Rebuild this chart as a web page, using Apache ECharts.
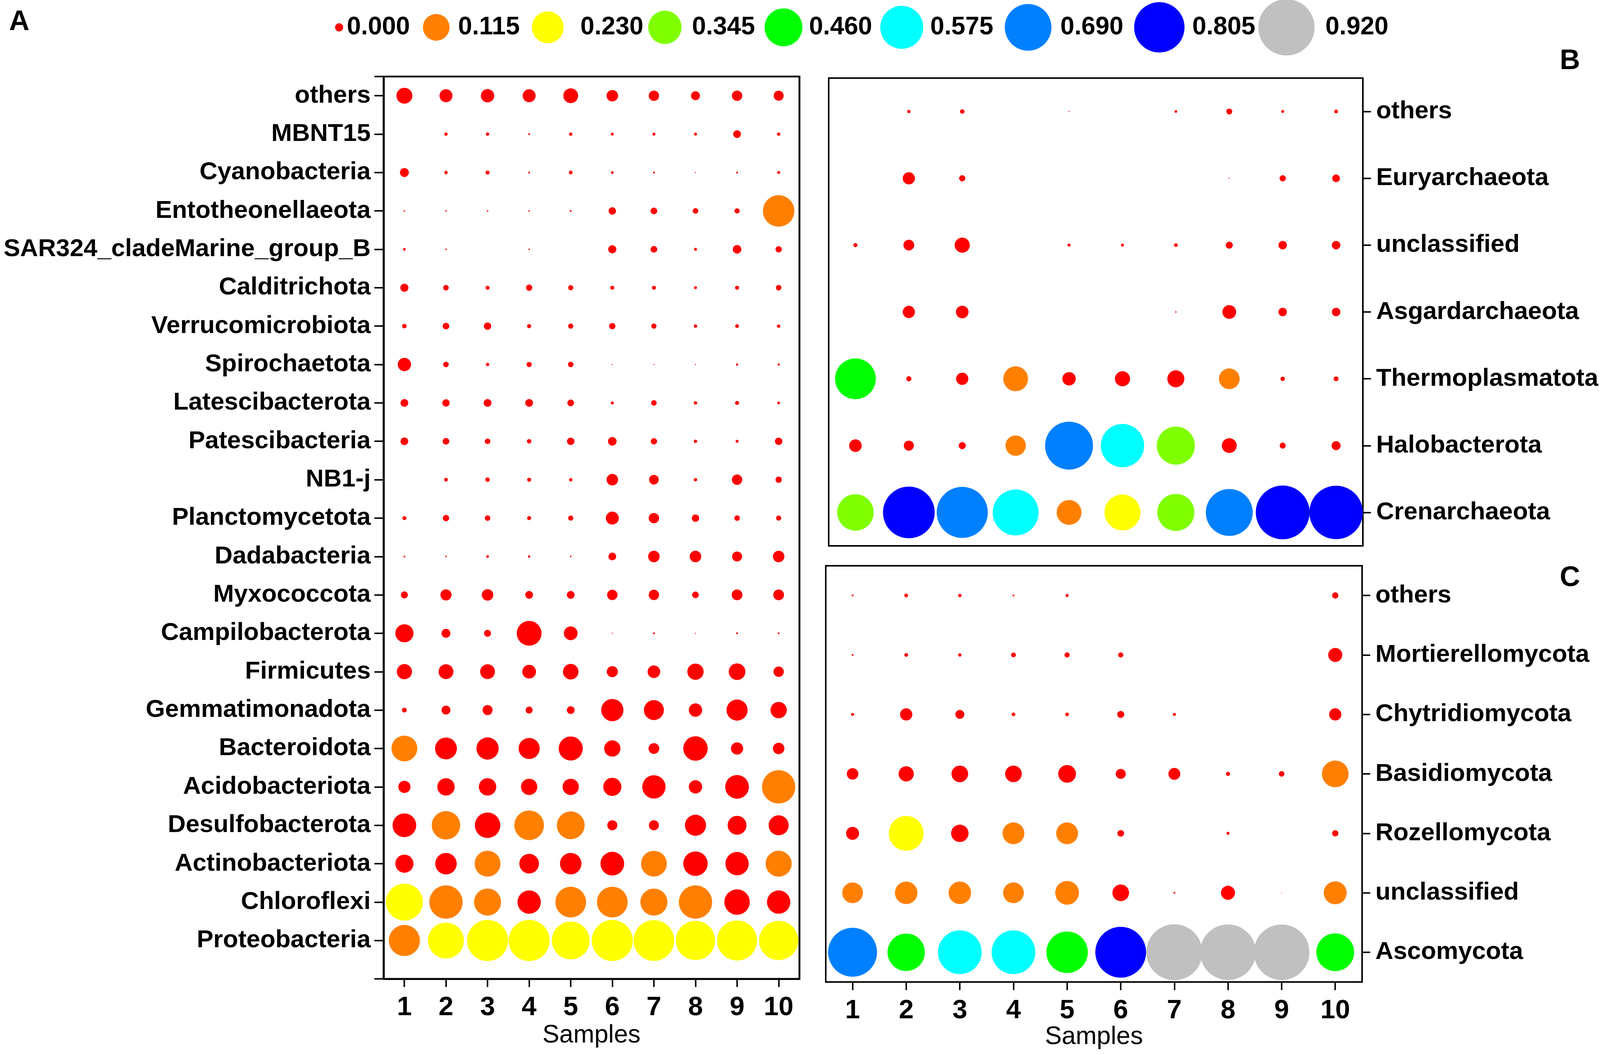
<!DOCTYPE html>
<html>
<head>
<meta charset="utf-8">
<script src="https://cdn.jsdelivr.net/npm/echarts@6/dist/echarts.min.js"></script>
<style>
html,body{margin:0;padding:0;background:#fff;overflow:hidden;}
#chart{width:100vw;height:100vh;}
</style>
</head>
<body>
<div id="chart"></div>
<script>
// ---------------- DATA ----------------
const SAMPLES = ['1','2','3','4','5','6','7','8','9','10'];

// Panel A (top to bottom)
const A_TAXA = ['others','MBNT15','Cyanobacteria','Entotheonellaeota','SAR324_cladeMarine_group_B',
  'Calditrichota','Verrucomicrobiota','Spirochaetota','Latescibacterota','Patescibacteria','NB1-j',
  'Planctomycetota','Dadabacteria','Myxococcota','Campilobacterota','Firmicutes','Gemmatimonadota',
  'Bacteroidota','Acidobacteriota','Desulfobacterota','Actinobacteriota','Chloroflexi','Proteobacteria'];
const A_VALUES = [
  [0.0447,0.0296,0.0313,0.0296,0.0386,0.0232,0.0189,0.0139,0.0189,0.0176],
  [0,0.002,0.002,0.0006,0.002,0.0015,0.0015,0.0015,0.0107,0.002],
  [0.0139,0.002,0.0029,0.0006,0.0024,0.0012,0.0006,0.0002,0.0006,0.0015],
  [0.0004,0.0004,0.0004,0.0004,0.0006,0.0097,0.0078,0.0054,0.0047,0.186],
  [0.0012,0.0004,0,0.0004,0,0.0117,0.0078,0.0015,0.0128,0.007],
  [0.0117,0.0054,0.0029,0.007,0.0047,0.0029,0.0029,0.0015,0.0029,0.0054],
  [0.0035,0.0078,0.0097,0.0029,0.0047,0.007,0.0047,0.002,0.0024,0.002],
  [0.0313,0.0054,0.002,0.0047,0.0054,0.0002,0.0002,0.0002,0.0009,0.0009],
  [0.0107,0.0097,0.0107,0.0107,0.0078,0.0015,0.0054,0.002,0.0029,0.0012],
  [0.0107,0.0078,0.0054,0.0035,0.0097,0.0128,0.007,0.002,0.0015,0.0097],
  [0,0.0024,0.0035,0.0029,0.002,0.0232,0.0163,0.002,0.0189,0.007],
  [0.0029,0.007,0.0054,0.0029,0.0047,0.0296,0.0189,0.0097,0.0054,0.0047],
  [0.0006,0.0004,0.0012,0.0009,0.0004,0.0107,0.0232,0.0232,0.0176,0.0232],
  [0.0087,0.0217,0.0232,0.0107,0.0107,0.0189,0.0189,0.0078,0.0203,0.0203],
  [0.058,0.0139,0.0087,0.1084,0.0331,0.0002,0.0006,0.0002,0.0006,0.0006],
  [0.0406,0.0386,0.0386,0.0331,0.0426,0.0217,0.0279,0.0468,0.0489,0.0189],
  [0.0041,0.0139,0.0176,0.0087,0.0107,0.087,0.0704,0.0313,0.0785,0.0468],
  [0.118,0.0841,0.087,0.0785,0.102,0.0468,0.0203,0.1052,0.0263,0.0232],
  [0.0263,0.0534,0.0534,0.0468,0.0468,0.058,0.0959,0.0313,0.0989,0.208],
  [0.0989,0.150,0.114,0.164,0.142,0.0176,0.0176,0.0785,0.0628,0.0704],
  [0.058,0.0813,0.119,0.0679,0.0813,0.0989,0.118,0.1052,0.0959,0.121],
  [0.259,0.208,0.133,0.0959,0.177,0.177,0.133,0.208,0.114,0.0959],
  [0.181,0.243,0.332,0.332,0.275,0.332,0.326,0.300,0.313,0.300]
];

// Panel B (top to bottom)
const B_TAXA = ['others','Euryarchaeota','unclassified','Asgardarchaeota','Thermoplasmatota','Halobacterota','Crenarchaeota'];
const B_VALUES = [
  [0,0.0037,0.0066,0,0.0004,0,0.0023,0.012,0.0029,0.0046],
  [0,0.05,0.013,0,0,0,0,0.0004,0.013,0.02],
  [0.0056,0.039,0.077,0,0.0029,0.0029,0.0046,0.017,0.024,0.024],
  [0,0.05,0.053,0,0,0,0.0007,0.063,0.024,0.024],
  [0.489,0.009,0.05,0.204,0.06,0.077,0.097,0.146,0.0066,0.0078],
  [0.053,0.034,0.017,0.141,0.72,0.586,0.40,0.074,0.012,0.027],
  [0.35,0.81,0.795,0.665,0.204,0.34,0.37,0.695,0.87,0.86]
];

// Panel C (top to bottom)
const C_TAXA = ['others','Mortierellomycota','Chytridiomycota','Basidiomycota','Rozellomycota','unclassified','Ascomycota'];
const C_VALUES = [
  [0.0011,0.0043,0.0034,0.0011,0.0027,0,0,0,0,0.0123],
  [0.0011,0.0043,0.0034,0.0072,0.0083,0.0083,0,0,0,0.0614],
  [0.0027,0.0463,0.0245,0.0043,0.0043,0.0154,0.0027,0,0,0.0463],
  [0.0409,0.0715,0.0861,0.0861,0.098,0.031,0.0435,0.0051,0.0096,0.185],
  [0.0521,0.324,0.094,0.139,0.139,0.0138,0,0.0027,0,0.0123],
  [0.129,0.146,0.146,0.129,0.157,0.0861,0.0011,0.0614,0,0.15],
  [0.763,0.468,0.61,0.61,0.552,0.815,0.954,0.943,0.943,0.476]
];

// Legend breaks and colours
const LEGEND_BREAKS = [0.000,0.115,0.230,0.345,0.460,0.575,0.690,0.805,0.920];
const LEGEND_COLORS = ['#FF0000','#FF8000','#FFFF00','#80FF00','#00FF00','#00FFFF','#0080FF','#0000FF','#C0C0C0'];

// ---------------- STYLE / LAYOUT (reference px, 4317 x 2702) ----------------
const REF_W = 4317, REF_H = 2702;
const el = document.getElementById('chart');
const W = el.clientWidth || window.innerWidth, H = el.clientHeight || window.innerHeight;
const sx = W/REF_W, sy = H/REF_H, s = Math.min(sx, sy);
const X = v => v*sx, Y = v => v*sy, S = v => v*s;

const FONT = "'Liberation Sans', Arial, Helvetica, sans-serif";
// value -> bubble diameter (reference px) per panel
const STOPS_A = [[0.115,69],[0.23,95],[0.345,113],[0.46,122],[0.575,130],[0.69,137],[0.805,143],[0.92,150]];
const STOPS_B = [[0.115,50],[0.23,72],[0.345,98],[0.46,108],[0.575,116],[0.69,126],[0.805,139],[0.92,150]];
const STOPS_C = [[0.115,52],[0.23,85],[0.345,96],[0.46,100],[0.575,115],[0.69,125],[0.805,136],[0.92,148],[1.0,155]];
function sizeFor(v, stops){
  if (!(v > 0)) return 0;
  let d;
  if (v < stops[0][0]) d = Math.max(2.5, stops[0][1]*Math.sqrt(v/stops[0][0]));
  else {
    d = null;
    for (let i=1;i<stops.length;i++){
      if (v <= stops[i][0]){
        const a=stops[i-1], b=stops[i];
        d = a[1] + (v-a[0])/(b[0]-a[0])*(b[1]-a[1]);
        break;
      }
    }
    if (d === null){
      const a=stops[stops.length-2], b=stops[stops.length-1];
      d = b[1] + (v-b[0])/(b[0]-a[0])*(b[1]-a[1]);
    }
  }
  return S(d);
}
const LEGEND_CX = [915,1177,1478,1794,2114,2433,2774,3128,3471];
const LEGEND_TX = [936,1236,1566,1867,2183,2510,2861,3217,3576];
const LEGEND_D  = [22,72,86,90,102,116,126,136,152];
const LEGEND_Y = 70;

// ---------------- BUILD ----------------
const nA = A_TAXA.length;
const dataA = [], dataB = [], dataC = [];
A_VALUES.forEach((row,r)=>row.forEach((v,c)=>dataA.push([c, nA-1-r, v])));
B_VALUES.forEach((row,r)=>row.forEach((v,c)=>dataB.push([c, B_TAXA.length-1-r, v])));
C_VALUES.forEach((row,r)=>row.forEach((v,c)=>dataC.push([c, C_TAXA.length-1-r, v])));

const pieces = LEGEND_BREAKS.map((b,i)=>{
  const p = {gte:b, color:LEGEND_COLORS[i]};
  if (i < LEGEND_BREAKS.length-1) p.lt = LEGEND_BREAKS[i+1];
  return p;
});

const labelBold = {color:'#000', fontFamily:FONT, fontWeight:'bold', fontSize:S(67)};

function xAxisCfg(gridIndex, showLabels, lineW){
  return {
    type:'category', gridIndex, data:SAMPLES, boundaryGap:true,
    axisLine:{show:true, onZero:false, lineStyle:{color:'#000', width:S(lineW)}},
    axisTick:{show:showLabels, alignWithLabel:true, length:S(22), lineStyle:{color:'#000', width:S(4)}},
    axisLabel:{show:showLabels, margin:S(42), color:'#000', fontFamily:FONT, fontWeight:'bold', fontSize:S(72)},
    splitLine:{show:false},
    name: showLabels ? 'Samples' : '',
    nameLocation:'middle', nameGap:S(114),
    nameTextStyle:{color:'#000', fontFamily:FONT, fontSize:S(68), fontWeight:'normal'}
  };
}
function yCatCfg(gridIndex, taxa){
  return {
    type:'category', gridIndex, position:'right', data: taxa.slice().reverse(), boundaryGap:true,
    axisLine:{show:true, onZero:false, lineStyle:{color:'#000', width:S(4)}},
    axisTick:{show:true, alignWithLabel:true, length:S(22), lineStyle:{color:'#000', width:S(4)}},
    axisLabel:{margin:S(36), ...labelBold},
    splitLine:{show:false}
  };
}

const graphics = [];
LEGEND_BREAKS.forEach((b,i)=>{
  graphics.push({type:'circle', shape:{cx:X(LEGEND_CX[i]), cy:Y(LEGEND_Y), r:S(LEGEND_D[i])/2}, style:{fill:LEGEND_COLORS[i]}, silent:true});
  graphics.push({type:'text', x:X(LEGEND_TX[i]), y:Y(LEGEND_Y), style:{text:b.toFixed(3), fill:'#000', font:'bold '+S(68)+'px '+FONT, textAlign:'left', textVerticalAlign:'middle'}});
});
[['A',52,57],['B',4236,157],['C',4236,1481]].forEach(t=>{
  graphics.push({type:'text', x:X(t[1]), y:Y(t[2]), style:{text:t[0], fill:'#000', font:'bold '+S(76)+'px '+FONT, textAlign:'center', textVerticalAlign:'middle'}});
});

function gridBox(l,t,w,h,bw){
  return {left:X(l), top:Y(t), width:X(w), height:Y(h), show:true, borderColor:'#000', borderWidth:S(bw), backgroundColor:'transparent'};
}

const option = {
  animation:false,
  backgroundColor:'#fff',
  grid:[
    gridBox(1035,196,1122,2311,5),
    gridBox(2236,200,1441,1198,4),
    gridBox(2228,1449,1447,1066,4)
  ],
  xAxis:[ xAxisCfg(0,true,5), xAxisCfg(1,false,4), xAxisCfg(2,true,4) ],
  yAxis:[
    {
      type:'value', gridIndex:0, min:-1, max:22.5, interval:1,
      axisLine:{show:true, onZero:false, lineStyle:{color:'#000', width:S(5)}},
      axisTick:{show:true, length:S(25), lineStyle:{color:'#000', width:S(4)}},
      axisLabel:{margin:S(35), ...labelBold, formatter:(v)=>{ const i = nA-1-Math.round(v); return (i>=0 && i<nA) ? A_TAXA[i] : ''; }},
      splitLine:{show:false}
    },
    yCatCfg(1, B_TAXA),
    yCatCfg(2, C_TAXA)
  ],
  visualMap:{type:'piecewise', show:false, dimension:2, seriesIndex:[0,1,2], pieces},
  series:[
    {type:'scatter', xAxisIndex:0, yAxisIndex:0, data:dataA, symbol:'circle', symbolSize:(d)=>sizeFor(d[2],STOPS_A), itemStyle:{opacity:1}},
    {type:'scatter', xAxisIndex:1, yAxisIndex:1, data:dataB, symbol:'circle', symbolSize:(d)=>sizeFor(d[2],STOPS_B), itemStyle:{opacity:1}},
    {type:'scatter', xAxisIndex:2, yAxisIndex:2, data:dataC, symbol:'circle', symbolSize:(d)=>sizeFor(d[2],STOPS_C), itemStyle:{opacity:1}}
  ],
  graphic: graphics
};

const chart = echarts.init(el, null, {renderer:'canvas'});
chart.setOption(option);
</script>
</body>
</html>
